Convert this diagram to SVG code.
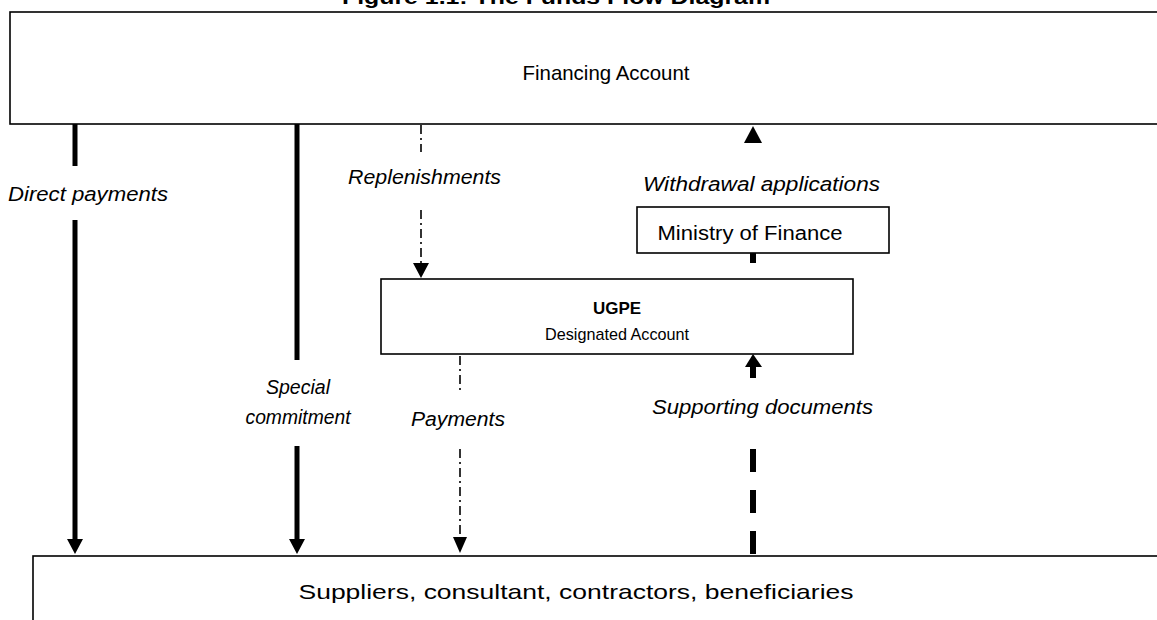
<svg xmlns="http://www.w3.org/2000/svg" width="1157" height="620" viewBox="0 0 1157 620">
<style>
  .box { fill: #fff; stroke: #000; stroke-width: 1.6; }
  .t { font-family: "Liberation Sans", Arial, sans-serif; fill: #000; }
  .lbl { font-family: "Liberation Sans", Arial, sans-serif; font-style: italic; font-size: 20px; fill: #000; }
  .thick { stroke: #000; stroke-width: 5; fill: none; }
  .dd { stroke: #000; stroke-width: 1.6; fill: none; stroke-dasharray: 9 4 2 4; }
  .dash { stroke: #000; stroke-width: 6; fill: none; stroke-dasharray: 23 18; }
  .head { fill: #000; }
</style>
<rect width="1157" height="620" fill="#fff"/>
<text class="t" x="556" y="4" font-size="21" font-weight="bold" text-anchor="middle" textLength="428" lengthAdjust="spacingAndGlyphs">Figure 1.1: The Funds Flow Diagram</text>

<g id="financing-account">
  <rect class="box" x="10" y="12" width="1160" height="112"/>
  <text class="t" x="606" y="80" font-size="21" text-anchor="middle" textLength="167" lengthAdjust="spacingAndGlyphs">Financing Account</text>
</g>

<g id="ministry-of-finance">
  <rect class="box" x="637" y="207" width="252" height="46"/>
  <text class="t" x="750" y="240" font-size="20" text-anchor="middle" textLength="185" lengthAdjust="spacingAndGlyphs">Ministry of Finance</text>
</g>

<g id="ugpe">
  <rect class="box" x="381" y="279" width="472" height="75"/>
  <text class="t" x="617" y="314" font-size="17" font-weight="bold" text-anchor="middle">UGPE</text>
  <text class="t" x="617" y="340" font-size="17" text-anchor="middle" textLength="144" lengthAdjust="spacingAndGlyphs">Designated Account</text>
</g>

<g id="suppliers">
  <rect class="box" x="33" y="556" width="1140" height="80"/>
  <text class="t" x="576" y="599" font-size="21" text-anchor="middle" textLength="555" lengthAdjust="spacingAndGlyphs">Suppliers, consultant, contractors, beneficiaries</text>
</g>

<g id="connectors">
  <!-- Direct payments -->
  <line class="thick" x1="75" y1="124" x2="75" y2="166"/>
  <line class="thick" x1="75" y1="220" x2="75" y2="540"/>
  <polygon class="head" points="67,539 83,539 75,554"/>
  <!-- Special commitment -->
  <line class="thick" x1="297" y1="124" x2="297" y2="360"/>
  <line class="thick" x1="297" y1="446" x2="297" y2="540"/>
  <polygon class="head" points="289,539 305,539 297,554"/>
  <!-- Replenishments -->
  <line class="dd" x1="421" y1="125" x2="421" y2="152"/>
  <line class="dd" x1="421" y1="210" x2="421" y2="264"/>
  <polygon class="head" points="413,263 429,263 421,278"/>
  <!-- Payments -->
  <line class="dd" x1="460" y1="356" x2="460" y2="394"/>
  <line class="dd" x1="460" y1="449" x2="460" y2="538"/>
  <polygon class="head" points="453,537 467,537 460,553"/>
  <!-- Supporting documents -->
  <line class="dash" x1="753" y1="449" x2="753" y2="556"/>
  <line x1="753" y1="366" x2="753" y2="378" stroke="#000" stroke-width="6"/>
  <polygon class="head" points="745,367 762,367 753,354"/>
  <!-- Withdrawal applications -->
  <line x1="753" y1="253" x2="753" y2="263" stroke="#000" stroke-width="6"/>
  <polygon class="head" points="744,143 762,143 753,126"/>
</g>

<g id="labels">
  <text class="lbl" x="8" y="201" textLength="160" lengthAdjust="spacingAndGlyphs">Direct payments</text>
  <text class="lbl" x="298" y="394" text-anchor="middle" textLength="64" lengthAdjust="spacingAndGlyphs">Special</text>
  <text class="lbl" x="298" y="424" text-anchor="middle" textLength="105" lengthAdjust="spacingAndGlyphs">commitment</text>
  <text class="lbl" x="348" y="184" textLength="153" lengthAdjust="spacingAndGlyphs">Replenishments</text>
  <text class="lbl" x="411" y="426" textLength="94" lengthAdjust="spacingAndGlyphs">Payments</text>
  <text class="lbl" x="643" y="191" textLength="237" lengthAdjust="spacingAndGlyphs">Withdrawal applications</text>
  <text class="lbl" x="652" y="414" textLength="221" lengthAdjust="spacingAndGlyphs">Supporting documents</text>
</g>
</svg>
